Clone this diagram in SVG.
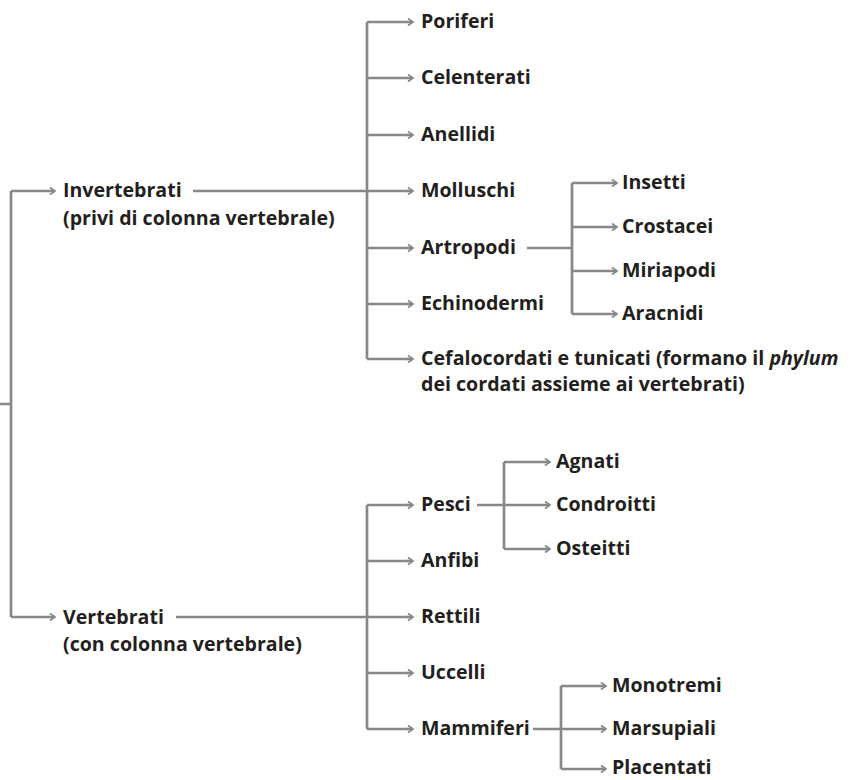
<svg xmlns="http://www.w3.org/2000/svg" width="852" height="780" viewBox="0 0 852 780">
<style>
.c{stroke:#88888a;stroke-width:2.7;fill:none}
.a{marker-end:url(#ah)}
text{font-family:"Open Sans","Noto Sans",sans-serif;font-weight:700;font-size:19.6px;fill:#231f20}
</style>
<defs>
<marker id="ah" markerUnits="userSpaceOnUse" markerWidth="10" markerHeight="10" refX="7.5" refY="5" orient="auto">
<path d="M2.5,1.5 L7.5,5 L2.5,8.5" fill="none" stroke="#88888a" stroke-width="1.7"/>
</marker>
</defs>
<g id="connectors">
<path class="c" d="M0,404 H11 M11,191 V617"/>
<path class="c a" d="M11,191 H55"/>
<path class="c a" d="M11,617 H55"/>
<path class="c" d="M193,191 H367 M367,22 V359"/>
<path class="c a" d="M367,22 H413"/>
<path class="c a" d="M367,78 H413"/>
<path class="c a" d="M367,135 H413"/>
<path class="c a" d="M367,191 H413"/>
<path class="c a" d="M367,248 H413"/>
<path class="c a" d="M367,304 H413"/>
<path class="c a" d="M367,359 H413"/>
<path class="c" d="M527,248 H572 M572,183 V314"/>
<path class="c a" d="M572,183 H617"/>
<path class="c a" d="M572,227 H617"/>
<path class="c a" d="M572,271 H617"/>
<path class="c a" d="M572,314 H617"/>
<path class="c" d="M176,617 H367 M367,505 V729"/>
<path class="c a" d="M367,505 H413"/>
<path class="c a" d="M367,561 H413"/>
<path class="c a" d="M367,617 H413"/>
<path class="c a" d="M367,673 H413"/>
<path class="c a" d="M367,729 H413"/>
<path class="c" d="M477,505 H504 M504,462 V549"/>
<path class="c a" d="M504,462 H550"/>
<path class="c a" d="M504,505 H550"/>
<path class="c a" d="M504,549 H550"/>
<path class="c" d="M533,729 H561 M561,686 V769"/>
<path class="c a" d="M561,686 H606"/>
<path class="c a" d="M561,729 H606"/>
<path class="c a" d="M561,769 H606"/>
</g>
<g id="invertebrati"><text x="63" y="197">Invertebrati</text><text x="63" y="225">(privi di colonna vertebrale)</text></g>
<g id="poriferi"><text x="421" y="28">Poriferi</text></g>
<g id="celenterati"><text x="421" y="84">Celenterati</text></g>
<g id="anellidi"><text x="421" y="141">Anellidi</text></g>
<g id="molluschi"><text x="421" y="197">Molluschi</text></g>
<g id="artropodi"><text x="421" y="254">Artropodi</text></g>
<g id="echinodermi"><text x="421" y="310">Echinodermi</text></g>
<g id="cefalocordati"><text x="421" y="365">Cefalocordati e tunicati (formano il <tspan font-style="italic">phylum</tspan></text><text x="421" y="391">dei cordati assieme ai vertebrati)</text></g>
<g id="insetti"><text x="622" y="189">Insetti</text></g>
<g id="crostacei"><text x="622" y="233">Crostacei</text></g>
<g id="miriapodi"><text x="622" y="277">Miriapodi</text></g>
<g id="aracnidi"><text x="622" y="320">Aracnidi</text></g>
<g id="vertebrati"><text x="63" y="624">Vertebrati</text><text x="63" y="651">(con colonna vertebrale)</text></g>
<g id="pesci"><text x="421" y="511">Pesci</text></g>
<g id="anfibi"><text x="421" y="567">Anfibi</text></g>
<g id="rettili"><text x="421" y="623">Rettili</text></g>
<g id="uccelli"><text x="421" y="679">Uccelli</text></g>
<g id="mammiferi"><text x="421" y="735">Mammiferi</text></g>
<g id="agnati"><text x="556" y="468">Agnati</text></g>
<g id="condroitti"><text x="556" y="511">Condroitti</text></g>
<g id="osteitti"><text x="556" y="555">Osteitti</text></g>
<g id="monotremi"><text x="612" y="692">Monotremi</text></g>
<g id="marsupiali"><text x="612" y="735">Marsupiali</text></g>
<g id="placentati"><text x="612" y="774">Placentati</text></g>
</svg>
